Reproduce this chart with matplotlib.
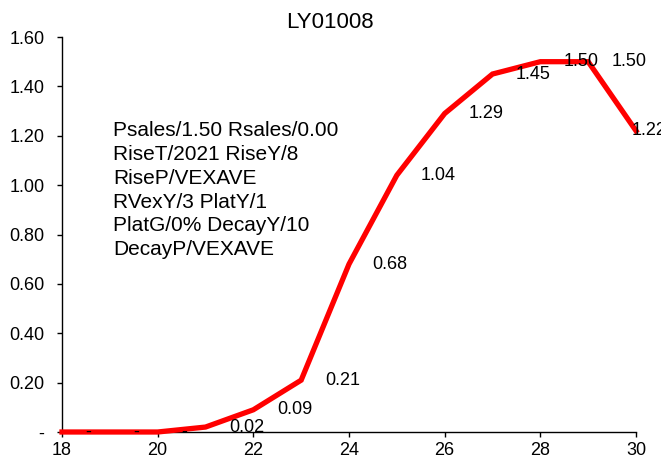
import matplotlib
matplotlib.use("Agg")
import matplotlib.pyplot as plt

years = [18, 19, 20, 21, 22, 23, 24, 25, 26, 27, 28, 29, 30]
values = [0.0, 0.0, 0.0, 0.02, 0.09, 0.21, 0.68, 1.04, 1.29, 1.45, 1.50, 1.50, 1.22]
yticks = [0, 0.2, 0.4, 0.6, 0.8, 1.0, 1.2, 1.4, 1.6]
xticks = [18, 20, 22, 24, 26, 28, 30]
title = "LY01008"
info_lines = ["Psales/1.50 Rsales/0.00", "RiseT/2021 RiseY/8", "RiseP/VEXAVE",
              "RVexY/3 PlatY/1", "PlatG/0% DecayY/10", "DecayP/VEXAVE"]

plt.rcParams['font.family'] = ['Liberation Sans', 'DejaVu Sans']
FS = 13

def fmt(v):
    return "-" if abs(v) < 1e-9 else f"{v:.2f}"

fig = plt.figure(figsize=(6.61, 4.59), dpi=100)
ax = fig.add_axes([62/661, 1-432/459, (636-62)/661, (432-37)/459])
ax.plot(years, values, color='#ff0000', lw=3.8, solid_joinstyle='miter', clip_on=False, zorder=3)
ax.set_xlim(18, 30)
ax.set_ylim(0, 1.6)
ax.set_xticks(xticks)
ax.set_yticks(yticks)
ax.set_yticklabels([fmt(v) for v in yticks])
ax.tick_params(labelsize=FS, length=3.6, width=1, direction='out')
ax.tick_params(axis='y', pad=9)
ax.tick_params(axis='x', pad=3.5)
for s in ['top', 'right']:
    ax.spines[s].set_visible(False)
for s in ['left', 'bottom']:
    ax.spines[s].set_linewidth(1)

for i, (x, v) in enumerate(zip(years, values)):
    off = 17 if i < len(years) - 1 else -3
    ax.annotate(fmt(v), (x, v), xytext=(off, 0), textcoords='offset points',
                ha='left', va='center', fontsize=FS, annotation_clip=False, zorder=4)

ax.text(0.089, 0.787, "\n".join(info_lines), transform=ax.transAxes,
        ha='left', va='top', fontsize=15, linespacing=1.32)

fig.text(330/661, 1-23/459, title, ha='center', va='center', fontsize=16)

fig.savefig("out.png", dpi=100)
